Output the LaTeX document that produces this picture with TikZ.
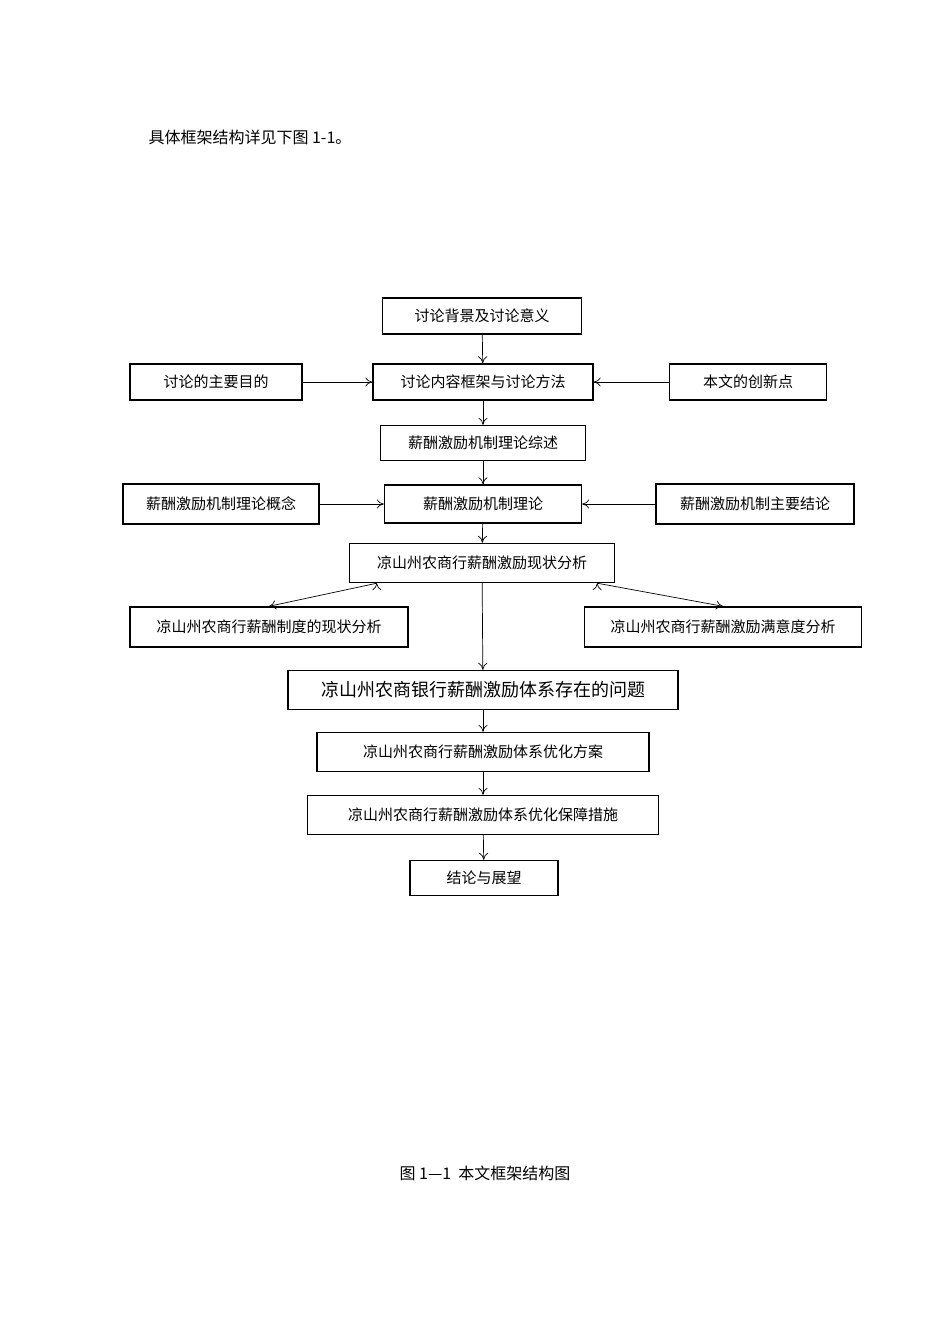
\documentclass[tikz,border=0pt]{standalone}
\usepackage{fontspec}
\setmainfont{Noto Sans CJK SC}
\usetikzlibrary{arrows.meta}
\begin{document}
\begin{tikzpicture}[x=1pt,y=-1pt,
  bx/.style={draw,line width=1.4pt,minimum height=36pt,inner sep=0pt,font=\fontsize{15}{15}\selectfont},
  ar/.style={-{To[length=7pt,width=9pt]},line width=0.7pt}]
\useasboundingbox (0,0) rectangle (950,1344);
\node[anchor=west,font=\fontsize{16}{16}\selectfont] (t) at (145,137) {具体框架结构详见下图 1-1。};
\node[bx,minimum width=199pt] (a) at (482,316) {讨论背景及讨论意义};
\node[bx,minimum width=172pt] (b) at (216,382) {讨论的主要目的};
\node[bx,minimum width=220pt] (c) at (483,382) {讨论内容框架与讨论方法};
\node[bx,minimum width=157pt] (d) at (748,382) {本文的创新点};
\node[bx,minimum width=205pt,minimum height=35pt] (e) at (483,443) {薪酬激励机制理论综述};
\node[bx,minimum width=196pt,minimum height=40pt] (f) at (221,504) {薪酬激励机制理论概念};
\node[bx,minimum width=197pt,minimum height=38pt] (g) at (483,504) {薪酬激励机制理论};
\node[bx,minimum width=198pt,minimum height=40pt] (h) at (755,504) {薪酬激励机制主要结论};
\node[bx,minimum width=265pt,minimum height=39pt] (i) at (482,563) {凉山州农商行薪酬激励现状分析};
\node[bx,minimum width=278pt,minimum height=40pt] (j) at (269,627) {凉山州农商行薪酬制度的现状分析};
\node[bx,minimum width=277pt,minimum height=40pt] (k) at (723,627) {凉山州农商行薪酬激励满意度分析};
\node[bx,minimum width=390pt,minimum height=39pt,font=\fontsize{18}{18}\selectfont] (l) at (483,690) {凉山州农商银行薪酬激励体系存在的问题};
\node[bx,minimum width=332pt,minimum height=39pt] (m) at (483,752) {凉山州农商行薪酬激励体系优化方案};
\node[bx,minimum width=351pt,minimum height=39pt] (n) at (483,815) {凉山州农商行薪酬激励体系优化保障措施};
\node[bx,minimum width=148pt,minimum height=35pt] (o) at (484,878) {结论与展望};
\node[font=\fontsize{16}{16}\selectfont] (cap) at (485,1173) {图 1—1\ \ 本文框架结构图};
\draw[ar] (a) -- (c);
\draw[ar] (b) -- (c);
\draw[ar] (d) -- (c);
\draw[ar] (c) -- (e);
\draw[ar] (e) -- (g);
\draw[ar] (f) -- (g);
\draw[ar] (h) -- (g);
\draw[ar] (g) -- (i);
\draw[ar] (i.south west) ++(28,0) coordinate (i1);
\draw[ar] (i1) -- (j.north);
\draw[ar] (i.south east) ++(-18,0) coordinate (i2);
\draw[ar] (i2) -- (k.north);
\draw[ar] (i) -- (l);
\draw[ar] (l) -- (m);
\draw[ar] (m) -- (n);
\draw[ar] (n) -- (o);
\end{tikzpicture}
\end{document}
